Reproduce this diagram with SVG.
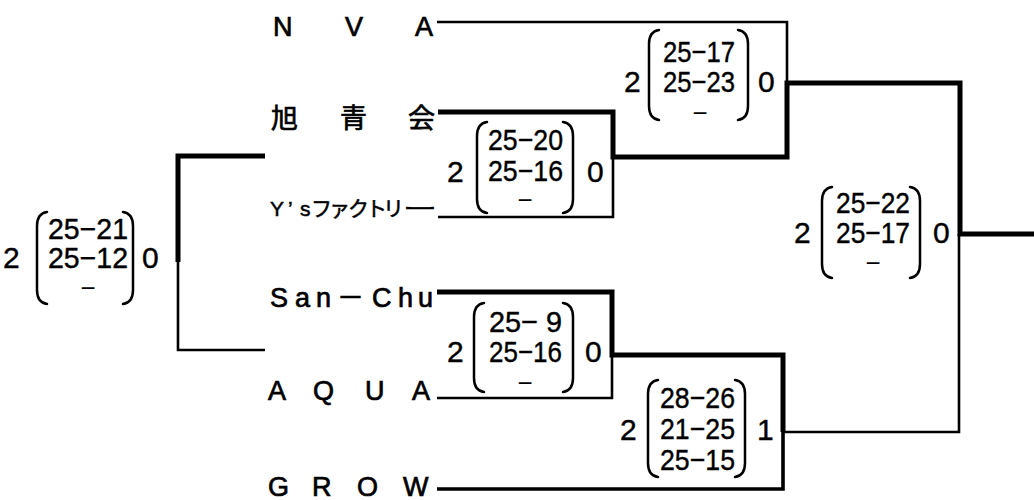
<svg xmlns="http://www.w3.org/2000/svg" width="1034" height="500" viewBox="0 0 1034 500">
<style>
.lbl{font-family:"Liberation Sans","Noto Sans CJK JP",sans-serif;font-size:27px;fill:#000;stroke:#000;stroke-width:0.7px}
.sc{font-family:"Liberation Sans","Noto Sans CJK JP",sans-serif;font-size:30px;fill:#000;stroke:#000;stroke-width:0.4px}
.ds{font-family:"Liberation Sans",sans-serif;font-size:26px;fill:#000}
.pr{fill:none;stroke:#000;stroke-width:2.5;stroke-linecap:round}
.thin{fill:none;stroke:#000;stroke-width:2.6;stroke-linejoin:miter}
.mid{fill:none;stroke:#000;stroke-width:3.6;stroke-linejoin:miter}
.thick{fill:none;stroke:#000;stroke-width:5;stroke-linejoin:miter}
</style>
<rect width="1034" height="500" fill="#fff"/>
<g id="connectors">
<path class="thin" d="M437,22 H787 V83"/>
<path class="thin" d="M438,217 H613 V157"/>
<path class="thin" d="M437,398 H612 V355"/>
<path class="thin" d="M783,432 H959 V234"/>
<path class="thin" d="M265,350 H178 V262"/>
<path class="thick" d="M438,112 H613 V157 H787 V83 H960 V234 H1034"/>
<path class="thick" d="M437,292 H612 V355 H783 V432"/>
<path class="mid" d="M783,430 V489 H437"/>
<path class="thick" d="M265,156 H178 V262"/>
</g>
<g id="team-nva"><text class="lbl" x="273 300 345 380 415" y="36">N V A</text></g>
<g id="team-kyokuseikai"><text class="lbl" x="271 300 340 370 408" y="128">旭 青 会</text></g>
<g id="team-ys"><text class="lbl" style="font-size:21px;stroke-width:0.5px" x="270 288 300 311 329 348 366 383" y="216">Y’sファクトリ<tspan x="403" textLength="34" lengthAdjust="spacingAndGlyphs">ー</tspan></text></g>
<g id="team-sanchu"><text class="lbl" x="270 295 316 337 372 398 418" y="307">San－Chu</text></g>
<g id="team-aqua"><text class="lbl" x="268 290 313 340 365 390 412" y="400">A Q U A</text></g>
<g id="team-grow"><text class="lbl" x="268 292 312 335 357 380 403" y="496">G R O W</text></g>

<g id="score-a">
<text class="sc" x="3" y="268">2</text>
<path class="pr" d="M47,212 C40,213 37,218 37,226 V290 C37,298 40,303 47,304"/>
<text class="sc" style="font-size:29px" x="48" y="239" textLength="80" lengthAdjust="spacingAndGlyphs">25−21</text>
<text class="sc" style="font-size:29px" x="48" y="268" textLength="80" lengthAdjust="spacingAndGlyphs">25−12</text>
<text class="ds" x="80.5" y="297">−</text>
<path class="pr" d="M123,212 C130,213 133,218 133,226 V290 C133,298 130,303 123,304"/>
<text class="sc" x="142" y="268">0</text>
</g>

<g id="score-b">
<text class="sc" x="447" y="182">2</text>
<path class="pr" d="M487,122 C480,123 477,128 477,136 V199 C477,207 480,212 487,213"/>
<text class="sc" x="488" y="150" textLength="75" lengthAdjust="spacingAndGlyphs">25−20</text>
<text class="sc" x="488" y="181" textLength="75" lengthAdjust="spacingAndGlyphs">25−16</text>
<text class="ds" x="517.5" y="209">−</text>
<path class="pr" d="M563,122 C570,123 573,128 573,136 V199 C573,207 570,212 563,213"/>
<text class="sc" x="587" y="182">0</text>
</g>

<g id="score-c">
<text class="sc" x="624" y="92">2</text>
<path class="pr" d="M659,30 C652,31 649,36 649,44 V106 C649,114 652,119 659,120"/>
<text class="sc" x="663" y="62" textLength="72" lengthAdjust="spacingAndGlyphs">25−17</text>
<text class="sc" x="663" y="92" textLength="72" lengthAdjust="spacingAndGlyphs">25−23</text>
<text class="ds" x="692.5" y="122">−</text>
<path class="pr" d="M738,30 C745,31 748,36 748,44 V106 C748,114 745,119 738,120"/>
<text class="sc" x="758" y="92">0</text>
</g>

<g id="score-d">
<text class="sc" x="794" y="243">2</text>
<path class="pr" d="M832,187 C825,188 822,193 822,201 V264 C822,272 825,277 832,278"/>
<text class="sc" x="836" y="213" textLength="74" lengthAdjust="spacingAndGlyphs">25−22</text>
<text class="sc" x="836" y="243" textLength="74" lengthAdjust="spacingAndGlyphs">25−17</text>
<text class="ds" x="865.5" y="272">−</text>
<path class="pr" d="M910,187 C917,188 920,193 920,201 V264 C920,272 917,277 910,278"/>
<text class="sc" x="933" y="243">0</text>
</g>

<g id="score-e">
<text class="sc" x="447" y="362">2</text>
<path class="pr" d="M484,303 C477,304 474,309 474,317 V378 C474,386 477,391 484,392"/>
<text class="sc" x="489" y="332" textLength="73" lengthAdjust="spacingAndGlyphs">25− 9</text>
<text class="sc" x="489" y="362" textLength="73" lengthAdjust="spacingAndGlyphs">25−16</text>
<text class="ds" x="517.5" y="392">−</text>
<path class="pr" d="M563,303 C570,304 573,309 573,317 V378 C573,386 570,391 563,392"/>
<text class="sc" x="585" y="362">0</text>
</g>

<g id="score-f">
<text class="sc" x="620" y="440">2</text>
<path class="pr" d="M658,380 C651,381 648,386 648,394 V463 C648,471 651,476 658,477"/>
<text class="sc" x="660" y="408" textLength="75" lengthAdjust="spacingAndGlyphs">28−26</text>
<text class="sc" x="660" y="439" textLength="75" lengthAdjust="spacingAndGlyphs">21−25</text>
<text class="sc" x="660" y="470" textLength="75" lengthAdjust="spacingAndGlyphs">25−15</text>
<path class="pr" d="M735,380 C742,381 745,386 745,394 V463 C745,471 742,476 735,477"/>
<text class="sc" x="757" y="440">1</text>
</g>
</svg>
